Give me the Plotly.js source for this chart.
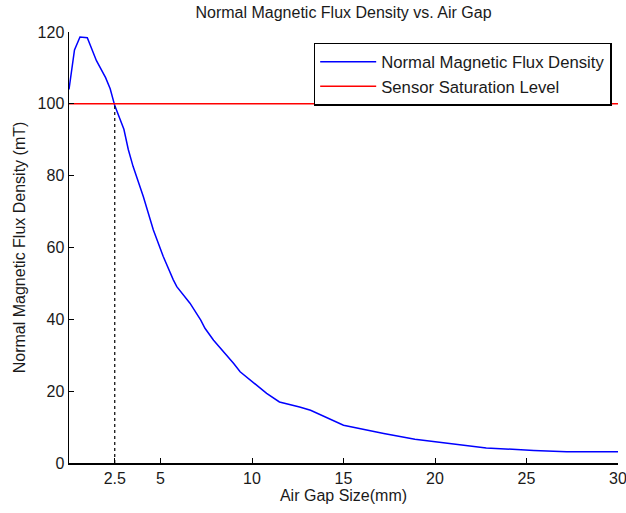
<!DOCTYPE html>
<html>
<head>
<meta charset="utf-8">
<script src="https://cdn.plot.ly/plotly-3.0.1.min.js"></script>
<style>html,body{margin:0;padding:0;background:#fff;}#chart{width:626px;height:513px;}</style>
</head>
<body>
<div id="chart"></div>
<script>
const airGap = [0, 0.1, 0.3, 0.6, 1.0, 1.5, 2.0, 2.25, 2.5, 3.0, 3.24, 3.5, 4.06, 4.61, 5.15, 5.7, 5.89, 6.61, 7.2, 7.43, 7.9, 9.0, 9.35, 10.8, 11.5, 12.6, 13.2, 15.0, 16.3, 17.2, 18.9, 20.8, 22.8, 25.4, 27.2, 30];
const fluxDensity = [104, 108, 115, 118.6, 118.4, 112, 107.3, 104.2, 99.5, 92.9, 87.3, 82.6, 74.2, 64.9, 57.5, 51, 49.1, 44.5, 39.8, 37.5, 34.2, 27.7, 25.4, 19.4, 17, 15.6, 14.7, 10.5, 9.1, 8.2, 6.6, 5.4, 4.2, 3.5, 3.1, 3.1];
const saturationX = [0, 30];
const saturationY = [100, 100];
const markerX = [2.5, 2.5];
const markerY = [0, 100];
const xTickVals = [2.5, 5, 10, 15, 20, 25, 30];
const xTickText = ['2.5', '5', '10', '15', '20', '25', '30'];
const yTickVals = [0, 20, 40, 60, 80, 100, 120];

const font = {family: 'Liberation Sans, Arial, sans-serif', size: 16, color: '#1a1a1a'};

const traces = [
  {x: airGap, y: fluxDensity, type: 'scatter', mode: 'lines', name: 'Normal Magnetic Flux Density',
   line: {color: '#0000ff', width: 1.5}},
  {x: saturationX, y: saturationY, type: 'scatter', mode: 'lines', name: 'Sensor Saturation Level',
   line: {color: '#ff0000', width: 1.5}},
  {x: markerX, y: markerY, type: 'scatter', mode: 'lines', showlegend: false,
   line: {color: '#000000', width: 1.2, dash: 'dot'}}
];

const layout = {
  width: 626, height: 513,
  margin: {l: 69, r: 8, t: 32, b: 50},
  paper_bgcolor: '#ffffff', plot_bgcolor: '#ffffff',
  font: font,
  title: {text: 'Normal Magnetic Flux Density vs. Air Gap', font: {family: font.family, size: 16, color: '#1a1a1a'},
          xref: 'paper', x: 0.5, xanchor: 'center', y: 0.975, yanchor: 'middle'},
  xaxis: {range: [0, 30], tickvals: xTickVals, ticktext: xTickText, ticks: 'inside', ticklen: 5,
          tickcolor: '#000', showline: true, linecolor: '#000', linewidth: 1.5, showgrid: false, zeroline: false,
          ticklabeloverflow: 'allow',
          title: {text: 'Air Gap Size(mm)', font: font, standoff: 4}, tickfont: font},
  yaxis: {range: [0, 120], tickvals: yTickVals, ticks: 'inside', ticklen: 5,
          tickcolor: '#000', showline: true, linecolor: '#000', linewidth: 1.5, showgrid: false, zeroline: false,
          title: {text: 'Normal Magnetic Flux Density (mT)', font: font, standoff: 8}, tickfont: font},
  legend: {x: 0.9885, xanchor: 'right', y: 0.975, yanchor: 'top', bordercolor: '#000', borderwidth: 1.5,
           bgcolor: '#fff', font: {family: font.family, size: 16.7, color: '#1a1a1a'}, tracegroupgap: 0, itemwidth: 56},
  showlegend: true
};

Plotly.newPlot('chart', traces, layout, {displayModeBar: false, staticPlot: true});
</script>
</body>
</html>
